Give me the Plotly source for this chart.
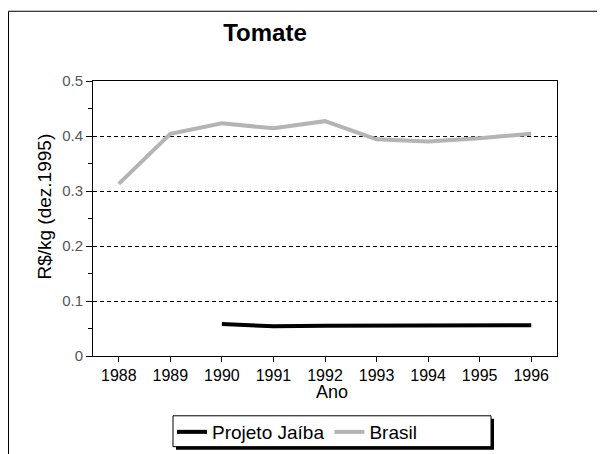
import plotly.graph_objects as go

anos = ['1988', '1989', '1990', '1991', '1992', '1993', '1994', '1995', '1996']
brasil = [0.313, 0.404, 0.423, 0.414, 0.427, 0.394, 0.390, 0.396, 0.404]
jaiba = [None, None, 0.058, 0.054, 0.055, 0.055, 0.055, 0.055, 0.056]

# the page adds an 8px body margin, so figure = page - 8
OFF = 8
W, H = 605, 454
L, T = 93 - OFF, 81 - OFF
pw, ph = 464, 276
R, B = W - L - pw, H - T - ph


def px_x(x):
    # page x -> paper x
    return (x - OFF - L) / pw


def px_y(y):
    # page y -> paper y
    return (T + ph - (y - OFF)) / ph


fig = go.Figure()
fig.add_trace(go.Scatter(x=anos, y=jaiba, name='Projeto Jaíba', mode='lines',
                         line=dict(color='black', width=4)))
fig.add_trace(go.Scatter(x=anos, y=brasil, name='Brasil', mode='lines',
                         line=dict(color='#b4b4b4', width=4)))

font = 'Arial, Liberation Sans, sans-serif'

# outer chart frame
fig.add_shape(type='rect', xref='paper', yref='paper',
              x0=px_x(8.5), x1=px_x(640), y0=px_y(11), y1=px_y(480),
              line=dict(color='black', width=1), layer='below')
# legend box with shadow
fig.add_shape(type='rect', xref='paper', yref='paper',
              x0=px_x(176), x1=px_x(494), y0=px_y(451), y1=px_y(420),
              line=dict(width=0), fillcolor='black', layer='below')
fig.add_shape(type='rect', xref='paper', yref='paper',
              x0=px_x(173), x1=px_x(491), y0=px_y(448), y1=px_y(417),
              line=dict(color='black', width=1), fillcolor='white', layer='below')

fig.add_annotation(text='R$/kg (dez.1995)', xref='paper', yref='paper',
                   x=px_x(45), y=px_y(207), textangle=-90, showarrow=False,
                   xanchor='center', yanchor='middle', font=dict(size=19))
fig.add_annotation(text='Ano', xref='paper', yref='paper',
                   x=px_x(332), y=px_y(393), showarrow=False,
                   xanchor='center', yanchor='middle', font=dict(size=18))

fig.update_layout(
    width=W, height=H,
    margin=dict(l=L, r=R, t=T, b=B),
    paper_bgcolor='white', plot_bgcolor='white',
    font=dict(family=font, color='black', size=15),
    title=dict(text='<b>Tomate</b>', x=(265 - OFF) / W, xanchor='center',
               y=1 - (33 - OFF) / H, yanchor='middle', font=dict(size=24)),
    legend=dict(orientation='h', x=px_x(172), xanchor='left',
                y=px_y(432), yanchor='middle', font=dict(size=19),
                bgcolor='rgba(0,0,0,0)', borderwidth=0,
                itemwidth=30, tracegroupgap=0),
    xaxis=dict(type='category', range=[-0.5, 8.5], showline=True, linecolor='black',
               mirror=True, ticks='outside', ticklen=5, tickcolor='black',
               showgrid=False, tickfont=dict(size=16)),
    yaxis=dict(range=[0, 0.5], tickvals=[0, 0.1, 0.2, 0.3, 0.4, 0.5],
               ticktext=['0', '0.1', '0.2', '0.3', '0.4', '0.5'],
               showline=True, linecolor='black', mirror=True,
               ticks='outside', ticklen=6, tickcolor='black',
               showgrid=True, gridcolor='black', griddash='4px,3px', gridwidth=1,
               zeroline=False, tickfont=dict(size=15, color='#555555'),
               minor=dict(dtick=0.05, ticks='outside', ticklen=4, tickcolor='black',
                          showgrid=False)),
)

fig.write_html('out.html')
